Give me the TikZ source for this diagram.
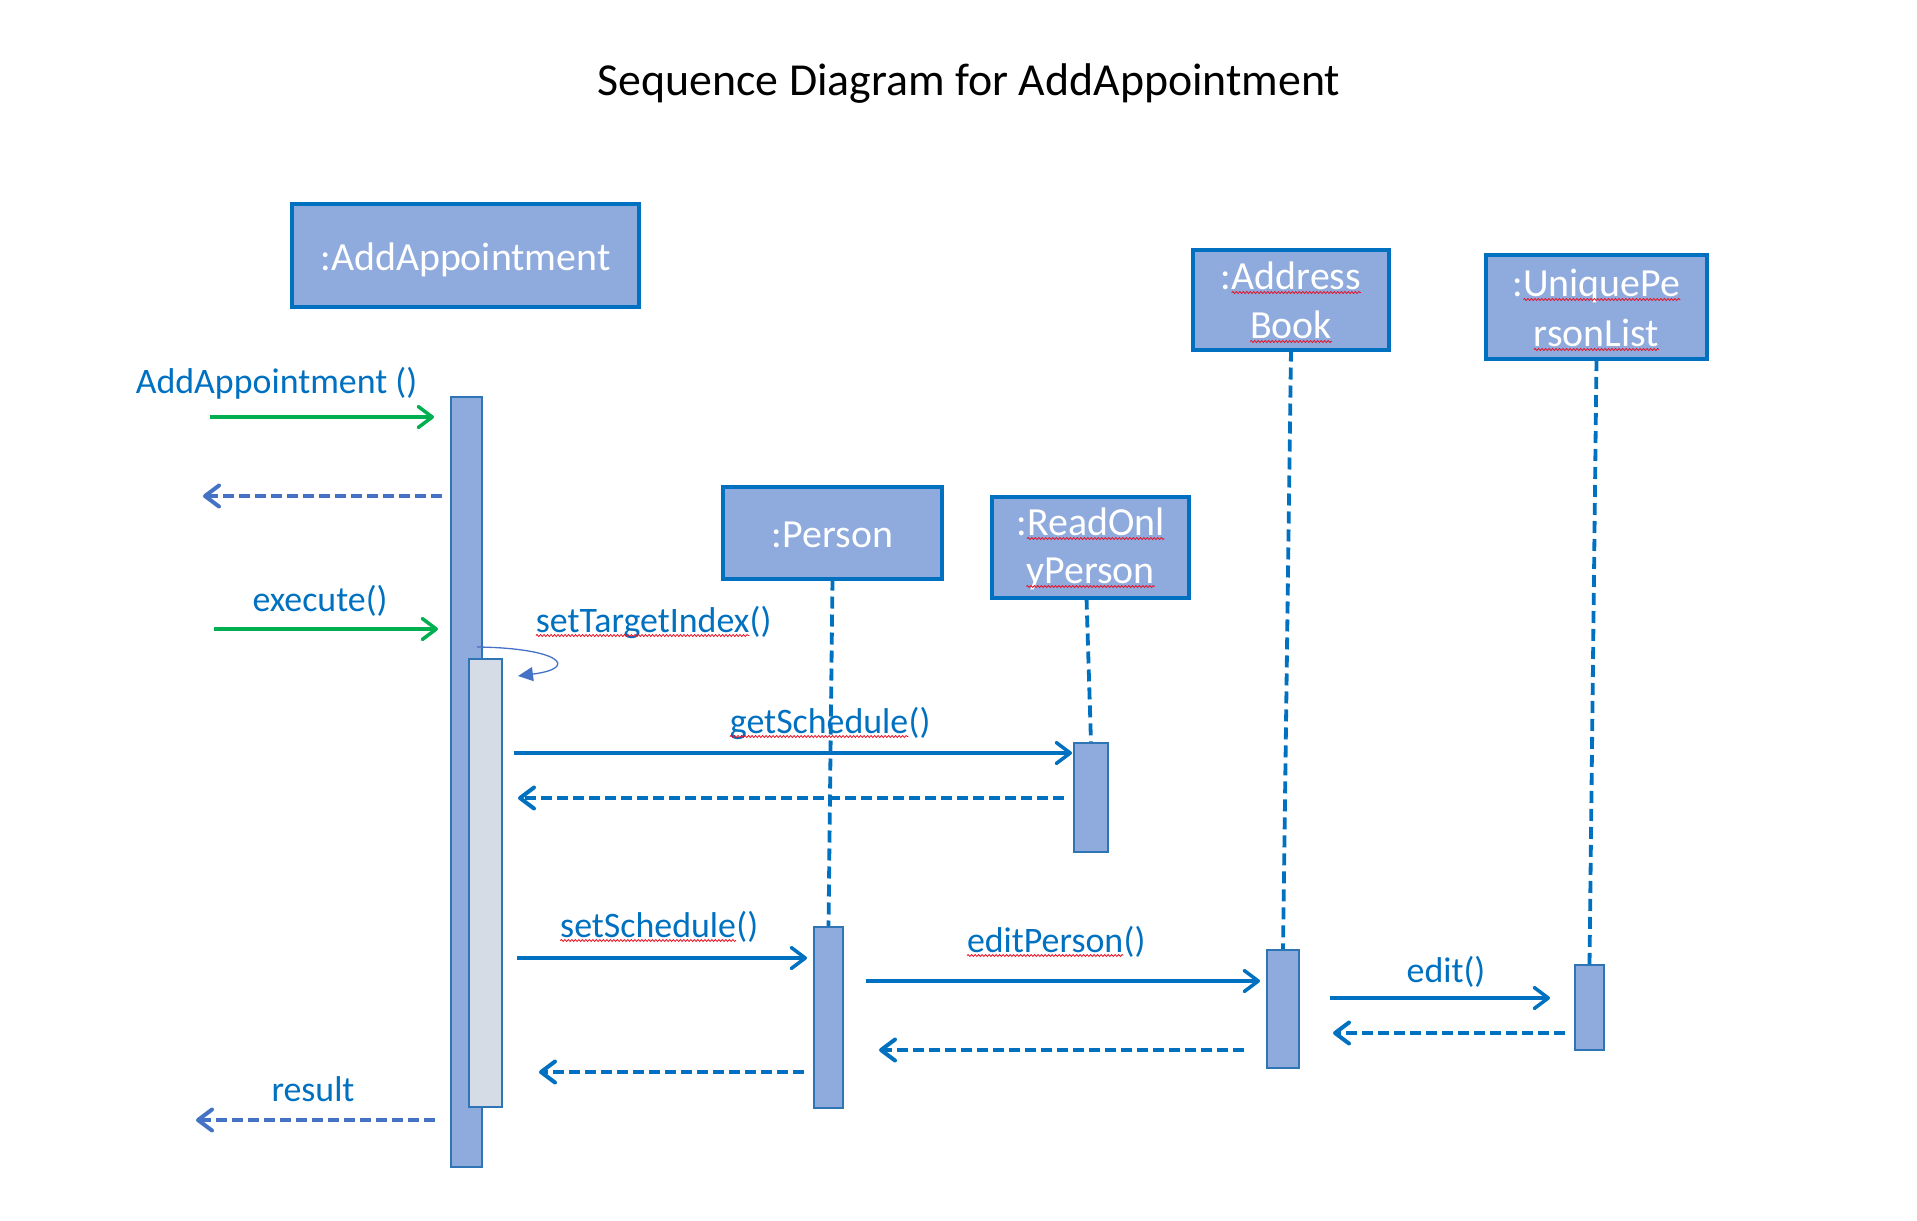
\documentclass[tikz,border=0pt]{standalone}
\usepackage{fontspec}
\setmainfont{Carlito}
\usetikzlibrary{arrows.meta,decorations.pathmorphing}
\definecolor{boxfill}{HTML}{8FAADC}
\definecolor{boxline}{HTML}{0070C0}
\definecolor{msg}{HTML}{0070C0}
\definecolor{retblue}{HTML}{4472C4}
\definecolor{callgreen}{HTML}{00B050}
\definecolor{innerfill}{HTML}{D6DCE5}
\definecolor{actline}{HTML}{2E75B6}
\definecolor{spellred}{HTML}{E81123}
\newcommand\spellwave[1]{\tikz[baseline=(sw.base)]{\node[inner sep=0pt,outer sep=0pt] (sw) {#1};\draw[spellred, line width=0.8bp, decorate, decoration={snake, amplitude=1bp, segment length=3.5bp}] ([yshift=-3.5bp]sw.base west) -- ([yshift=-3.5bp]sw.base east);}}
\tikzset{
  objbox/.style={draw=boxline, fill=boxfill, line width=4bp, inner sep=0pt, outer sep=0pt},
  actbar/.style={draw=actline, fill=boxfill, line width=1.5bp, inner sep=0pt, outer sep=0pt},
  innerbar/.style={draw=actline, fill=innerfill, line width=1.5bp, inner sep=0pt, outer sep=0pt},
  objtxt/.style={text=white, font=\fontsize{40}{48}\selectfont, inner sep=0pt, anchor=base},
  lbl/.style={text=msg, font=\fontsize{36}{43}\selectfont, inner sep=0pt, anchor=base},
  lifeline/.style={draw=msg, line width=3.8bp, dash pattern=on 12bp off 6bp},
  msgarrow/.style={draw=msg, line width=3.5bp, -{Straight Barb[length=14bp,width=21bp,round]}},
  retarrow/.style={msgarrow, line width=4bp, dash pattern=on 11bp off 5bp},
  greenarrow/.style={msgarrow, draw=callgreen},
  outret/.style={retarrow, draw=retblue},
  selfarrow/.style={draw=retblue, line width=1.3bp, -{Triangle[length=15bp,width=14bp]}},
}
\begin{document}
\begin{tikzpicture}[x=1bp,y=-1bp]
\useasboundingbox (0,0) rectangle (1917,1220);

% title
\node[font=\fontsize{46}{54}\selectfont, anchor=base, inner sep=0pt] (title) at (969,95) {Sequence Diagram for AddAppointment};

% object boxes
\node[objbox, minimum width=347bp, minimum height=103bp] (objA) at (465.5,255.5) {};
\node[objbox, minimum width=219bp, minimum height=92bp] (objP) at (832.5,532.5) {};
\node[objbox, minimum width=197bp, minimum height=101bp] (objR) at (1090.5,547) {};
\node[objbox, minimum width=196bp, minimum height=100bp] (objB) at (1291,299.5) {};
\node[objbox, minimum width=221bp, minimum height=104bp] (objU) at (1596.5,307) {};

\node[objtxt] (tA) at (465.5,270) {:AddAppointment};
\node[objtxt] (tP) at (832.5,547) {:Person};
\node[objtxt] (tR1) at (1090.5,535) {:\spellwave{ReadOnl}};
\node[objtxt] (tR2) at (1090.5,583) {\spellwave{yPerson}};
\node[objtxt] (tB1) at (1291,289) {:\spellwave{Address}};
\node[objtxt] (tB2) at (1291,338) {\spellwave{Book}};
\node[objtxt] (tU1) at (1596.5,296) {:\spellwave{UniquePe}};
\node[objtxt] (tU2) at (1596.5,346) {\spellwave{rsonList}};

% activation bars
\node[actbar, minimum width=31bp, minimum height=770bp] (actA) at (466.5,782) {};
\node[innerbar, minimum width=33bp, minimum height=448bp] (actA2) at (485.5,883) {};
\node[actbar, minimum width=29bp, minimum height=181bp] (actP) at (828.5,1017.5) {};
\node[actbar, minimum width=34bp, minimum height=109bp] (actR) at (1091,797.5) {};
\node[actbar, minimum width=32bp, minimum height=118bp] (actB) at (1283,1009) {};
\node[actbar, minimum width=29bp, minimum height=85bp] (actU) at (1589.5,1007.5) {};

% lifelines
\draw[lifeline] (objP.south) -- (actP.north);
\draw[lifeline] ([xshift=-4bp]objR.south) -- (actR.north);
\draw[lifeline] (objB.south) -- (actB.north);
\draw[lifeline] (objU.south) -- (actU.north);

% redraw bars over lifelines
\node[actbar, minimum width=29bp, minimum height=181bp] at (actP) {};
\node[actbar, minimum width=34bp, minimum height=109bp] at (actR) {};
\node[actbar, minimum width=32bp, minimum height=118bp] at (actB) {};
\node[actbar, minimum width=29bp, minimum height=85bp] at (actU) {};

% coordinates for message ends
\coordinate (c1s) at (210,417);
\coordinate (c1e) at (434,417);
\coordinate (r1s) at (442,496);
\coordinate (r1e) at (203,496);
\coordinate (c2s) at (214,629);
\coordinate (c2e) at (438,629);
\coordinate (sls) at (477,647);
\coordinate (sle) at (518,676);
\coordinate (gss) at (514,753);
\coordinate (gse) at (1072,753);
\coordinate (gsrs) at (1064,798);
\coordinate (gsre) at (518,798);
\coordinate (sss) at (517,958);
\coordinate (sse) at (807,958);
\coordinate (eps) at (866,981);
\coordinate (epe) at (1260,981);
\coordinate (eds) at (1330,998);
\coordinate (ede) at (1550,998);
\coordinate (edrs) at (1565,1033);
\coordinate (edre) at (1333,1033);
\coordinate (eprs) at (1244,1050);
\coordinate (epre) at (879,1050);
\coordinate (ssrs) at (804,1072);
\coordinate (ssre) at (539,1072);
\coordinate (ress) at (435,1120);
\coordinate (rese) at (196,1120);

% messages
\draw[greenarrow] (c1s) -- (c1e);
\draw[outret] (r1s) -- (r1e);
\draw[greenarrow] (c2s) -- (c2e);
\draw[selfarrow] (sls) .. controls (560,648) and (580,668) .. (sle);
\draw[msgarrow] (gss) -- (gse);
\draw[retarrow] (gsrs) -- (gsre);
\draw[msgarrow] (sss) -- (sse);
\draw[msgarrow] (eps) -- (epe);
\draw[msgarrow] (eds) -- (ede);
\draw[retarrow] (edrs) -- (edre);
\draw[retarrow] (eprs) -- (epre);
\draw[retarrow] (ssrs) -- (ssre);
\draw[outret] (ress) -- (rese);

% labels
\node[lbl] (l1) at (276.5,393) {AddAppointment ()};
\node[lbl] (l2) at (320,611) {execute()};
\node[lbl] (l3) at (653.5,632) {\spellwave{setTargetIndex}()};
\node[lbl] (l4) at (830,733) {\spellwave{getSchedule}()};
\node[lbl] (l5) at (659,937) {\spellwave{setSchedule}()};
\node[lbl] (l6) at (1056,952) {\spellwave{editPerson}()};
\node[lbl] (l7) at (1446,982) {edit()};
\node[lbl] (l8) at (313,1101) {result};
\end{tikzpicture}
\end{document}
